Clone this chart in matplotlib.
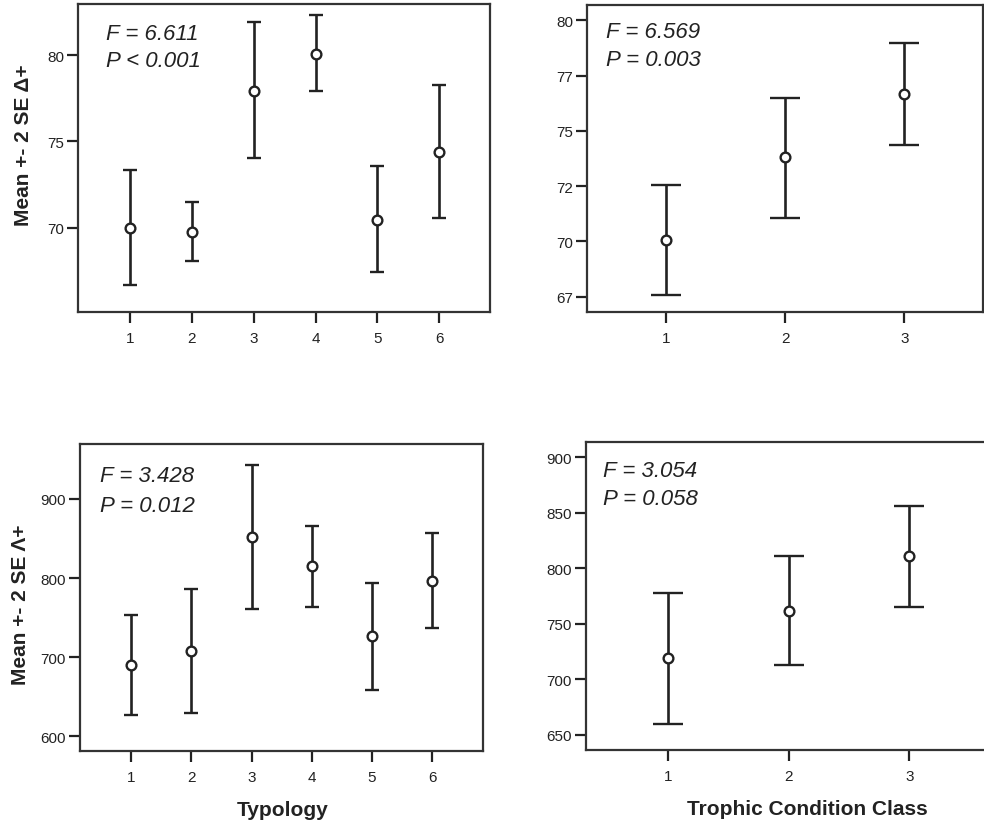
import matplotlib.pyplot as plt

plt.rcParams['font.family'] = ['Liberation Sans', 'DejaVu Sans']

# Typology groups (1-6) and trophic condition classes (1-3)
typology = [1, 2, 3, 4, 5, 6]
trophic = [1, 2, 3]

# Delta+ : means with mean +- 2 SE limits
delta_typ_mean = [70.0, 69.77, 77.94, 80.06, 70.48, 74.41]
delta_typ_hi = [73.37, 71.52, 81.89, 82.31, 73.6, 78.27]
delta_typ_lo = [66.7, 68.07, 74.03, 77.9, 67.44, 70.6]

delta_tro_mean = [70.07, 73.8, 76.66]
delta_tro_hi = [72.56, 76.5, 78.96]
delta_tro_lo = [67.57, 71.05, 74.37]

# Lambda+ : means with mean +- 2 SE limits
lambda_typ_mean = [689.6, 707.7, 851.7, 815.1, 726.7, 796.5]
lambda_typ_hi = [752.8, 785.6, 943.4, 865.2, 794.4, 856.7]
lambda_typ_lo = [626.5, 629.9, 760.4, 762.9, 658.5, 736.4]

lambda_tro_mean = [719.0, 761.9, 810.6]
lambda_tro_hi = [777.9, 810.6, 856.2]
lambda_tro_lo = [659.9, 713.0, 765.0]

# ANOVA results
stats_text = [("F = 6.611", "P < 0.001"), ("F = 6.569", "P = 0.003"),
              ("F = 3.428", "P = 0.012"), ("F = 3.054", "P = 0.058")]

# y tick positions and labels
delta_typ_ticks = [70, 75, 80]
delta_tro_ticks = [67.5, 70, 72.5, 75, 77.5, 80]
delta_tro_labels = ['67', '70', '72', '75', '77', '80']
lambda_typ_ticks = [600, 700, 800, 900]
lambda_tro_ticks = [650, 700, 750, 800, 850, 900]

ink = '#222222'
fig = plt.figure(figsize=(9.84, 8.28), dpi=100)

W, H = 984.0, 828.0


def px_axes(x0, y0, x1, y1):
    return fig.add_axes([x0 / W, 1 - y1 / H, (x1 - x0) / W, (y1 - y0) / H])


ax_tl = px_axes(78, 5, 490, 313)
ax_tr = px_axes(587, 6, 983, 313)
ax_bl = px_axes(80, 445, 483, 752)
ax_br = px_axes(586, 443, 991, 751)


def draw_panel(ax, x, mean, lo, hi, capsize):
    yerr = [[m - l for m, l in zip(mean, lo)], [h - m for m, h in zip(mean, hi)]]
    ax.errorbar(x, mean, yerr=yerr, fmt='o', color=ink, ecolor=ink,
                elinewidth=1.9, capsize=capsize, capthick=1.9,
                markersize=7, markerfacecolor='white', markeredgecolor=ink,
                markeredgewidth=1.7, zorder=3)
    ax.set_xticks(x)
    ax.tick_params(direction='out', length=8, width=1.6, color=ink,
                   labelsize=11, labelcolor=ink)
    ax.tick_params(axis='y', pad=2)
    ax.tick_params(axis='x', pad=6)
    for s in ax.spines.values():
        s.set_color('#333333')
        s.set_linewidth(1.6)


draw_panel(ax_tl, typology, delta_typ_mean, delta_typ_lo, delta_typ_hi, 4.7)
draw_panel(ax_tr, trophic, delta_tro_mean, delta_tro_lo, delta_tro_hi, 10.8)
draw_panel(ax_bl, typology, lambda_typ_mean, lambda_typ_lo, lambda_typ_hi, 4.7)
draw_panel(ax_br, trophic, lambda_tro_mean, lambda_tro_lo, lambda_tro_hi, 10.8)

ax_tl.set_xlim(0.16, 6.82)
ax_tl.set_ylim(65.14, 82.95)
ax_tl.set_yticks(delta_typ_ticks)

ax_tr.set_xlim(0.34, 3.66)
ax_tr.set_ylim(66.81, 80.69)
ax_tr.set_yticks(delta_tro_ticks)
ax_tr.set_yticklabels(delta_tro_labels)

ax_bl.set_xlim(0.154, 6.84)
ax_bl.set_ylim(581.5, 969.4)
ax_bl.set_yticks(lambda_typ_ticks)

ax_br.set_xlim(0.323, 3.677)
ax_br.set_ylim(636.5, 913.5)
ax_br.set_yticks(lambda_tro_ticks)

# F / P annotations
text_pos = [(0.068, 0.903, 0.815), (0.048, 0.913, 0.823),
            (0.05, 0.897, 0.801), (0.041, 0.908, 0.816)]
for ax, (f_txt, p_txt), (tx, y1, y2) in zip([ax_tl, ax_tr, ax_bl, ax_br], stats_text, text_pos):
    ax.text(tx, y1, f_txt, transform=ax.transAxes, fontsize=16, style='italic',
            color=ink, va='center', ha='left')
    ax.text(tx, y2, p_txt, transform=ax.transAxes, fontsize=16, style='italic',
            color=ink, va='center', ha='left')

ax_tl.set_ylabel('Mean +- 2 SE \u0394+', fontsize=15, fontweight='bold', color=ink)
ax_tl.yaxis.set_label_coords(-0.109, 0.545)
ax_bl.set_ylabel('Mean +- 2 SE \u039b+', fontsize=15, fontweight='bold', color=ink)
ax_bl.yaxis.set_label_coords(-0.125, 0.479)

ax_bl.set_xlabel('Typology', fontsize=15, fontweight='bold', color=ink)
ax_bl.xaxis.label.set_va('center')
ax_bl.xaxis.set_label_coords(0.504, -0.189)
ax_br.set_xlabel('Trophic Condition Class', fontsize=15, fontweight='bold', color=ink)
ax_br.xaxis.label.set_va('center')
ax_br.xaxis.set_label_coords(0.547, -0.189)

fig.savefig('out.png', dpi=100)
